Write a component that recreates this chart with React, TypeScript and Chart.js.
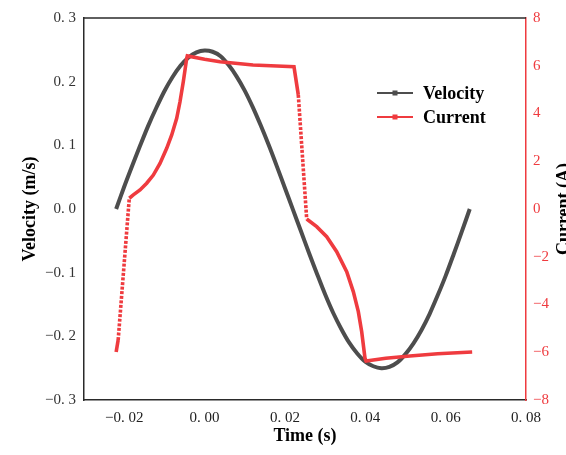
import React, { useEffect, useRef } from "react";
import { Chart, registerables } from "chart.js";

Chart.register(...registerables);

// ---- data ----
const TIME_V = [
  -0.022, -0.02, -0.018, -0.016, -0.014, -0.012, -0.01, -0.008, -0.006, -0.004, -0.002,
  0.0, 0.002, 0.004, 0.006, 0.008, 0.01, 0.012, 0.014, 0.016, 0.018, 0.02,
  0.022, 0.024, 0.026, 0.028, 0.03, 0.032, 0.034, 0.036, 0.038, 0.04, 0.042,
  0.044, 0.046, 0.048, 0.05, 0.052, 0.054, 0.056, 0.058, 0.06, 0.062, 0.064, 0.066,
];
const VELOCITY = [
  0.0, 0.035, 0.068, 0.1, 0.131, 0.159, 0.185, 0.207, 0.225, 0.238, 0.246,
  0.249, 0.247, 0.24, 0.226, 0.208, 0.186, 0.16, 0.131, 0.1, 0.067, 0.033,
  -0.001, -0.035, -0.069, -0.102, -0.134, -0.163, -0.188, -0.21, -0.227, -0.24, -0.247,
  -0.25, -0.248, -0.241, -0.228, -0.211, -0.19, -0.165, -0.136, -0.105, -0.071, -0.036, 0.0,
];

const TIME_I = [
  -0.022, -0.0215, -0.01873, -0.01773, -0.01606, -0.0144, -0.01275, -0.01109, -0.00942,
  -0.00817, -0.00693, -0.00611, -0.00529, -0.00444, -0.00429, 0.0, 0.00385, 0.01206,
  0.018, 0.02226, 0.02333, 0.02542, 0.02791, 0.0304, 0.03289, 0.03538, 0.03702,
  0.03827, 0.03911, 0.03993, 0.0402, 0.0451, 0.0511, 0.058, 0.0666,
];
const CURRENT = [
  -5.99, -5.49, 0.45, 0.59, 0.8, 1.08, 1.42, 1.91, 2.54,
  3.1, 3.8, 4.49, 5.33, 6.31, 6.41, 6.27, 6.17, 6.03,
  5.99, 5.96, 4.78, -0.42, -0.74, -1.16, -1.79, -2.63, -3.46,
  -4.3, -5.14, -6.25, -6.37, -6.25, -6.16, -6.06, -5.99,
];

const X_TICKS = [-0.02, 0.0, 0.02, 0.04, 0.06, 0.08];
const Y_LEFT_TICKS = [-0.3, -0.2, -0.1, 0.0, 0.1, 0.2, 0.3];
const Y_RIGHT_TICKS = [-8, -6, -4, -2, 0, 2, 4, 6, 8];

const SERIES_LABELS = ["Velocity", "Current"];
const X_TITLE = "Time (s)";
const Y_LEFT_TITLE = "Velocity (m/s)";
const Y_RIGHT_TITLE = "Current (A)";

// ---- styles ----
const GRAY = "#4d4d4d";
const RED = "#ef3b3f";
const AXIS = "#2a2a2a";
const SERIF = "'Liberation Serif', 'Times New Roman', serif";

const fmt = (v: number, d: number) => {
  const s = Math.abs(v).toFixed(d).replace(".", ". ");
  return (v < -1e-9 ? "\u2212" : "") + s;
};

const decorPlugin = {
  id: "decor",
  afterDraw(chart: any) {
    const { ctx, chartArea } = chart;
    const { left, right, top, bottom } = chartArea;
    ctx.save();
    // top border
    ctx.strokeStyle = AXIS;
    ctx.lineWidth = 1.5;
    ctx.beginPath();
    ctx.moveTo(left, top);
    ctx.lineTo(right, top);
    ctx.stroke();

    // titles
    const cy = (top + bottom) / 2;
    ctx.fillStyle = "#000";
    ctx.font = `bold 18px ${SERIF}`;
    ctx.textAlign = "center";
    ctx.textBaseline = "middle";
    ctx.fillText(X_TITLE, (left + right) / 2, 436);

    ctx.save();
    ctx.translate(30, cy);
    ctx.rotate(-Math.PI / 2);
    ctx.fillText(Y_LEFT_TITLE, 0, 0);
    ctx.restore();

    ctx.save();
    ctx.translate(564, cy);
    ctx.rotate(-Math.PI / 2);
    ctx.fillText(Y_RIGHT_TITLE, 0, 0);
    ctx.restore();

    // legend
    const ds = chart.data.datasets;
    const lx0 = 377;
    const lx1 = 413;
    const ly = [93, 117];
    ds.forEach((d: any, i: number) => {
      const y = ly[i];
      ctx.strokeStyle = d.borderColor;
      ctx.lineWidth = 2;
      ctx.beginPath();
      ctx.moveTo(lx0, y);
      ctx.lineTo(lx1, y);
      ctx.stroke();
      ctx.fillStyle = d.borderColor;
      ctx.fillRect((lx0 + lx1) / 2 - 2.5, y - 2.5, 5, 5);
      ctx.fillStyle = "#000";
      ctx.font = `bold 18px ${SERIF}`;
      ctx.textAlign = "left";
      ctx.textBaseline = "middle";
      ctx.fillText(d.label, 423, y + 1);
    });
    ctx.restore();
  },
};

export default function App() {
  const ref = useRef<HTMLCanvasElement | null>(null);

  useEffect(() => {
    document.body.style.margin = "0";
    document.body.style.overflow = "hidden";
    const canvas = ref.current;
    if (!canvas) return;
    const chart = new Chart(canvas, {
      type: "line",
      data: {
        datasets: [
          {
            label: SERIES_LABELS[0],
            data: TIME_V.map((t, i) => ({ x: t, y: VELOCITY[i] })),
            borderColor: GRAY,
            backgroundColor: GRAY,
            borderWidth: 4,
            pointRadius: 0,
            tension: 0.3,
            yAxisID: "y",
            order: 2,
          },
          {
            label: SERIES_LABELS[1],
            data: TIME_I.map((t, i) => ({ x: t, y: CURRENT[i] })),
            borderColor: RED,
            backgroundColor: RED,
            borderWidth: 3.6,
            pointRadius: 0,
            tension: 0,
            borderCapStyle: "butt",
            borderJoinStyle: "miter",
            yAxisID: "y1",
            order: 1,
            segment: {
              borderDash: (c: any) =>
                Math.abs(c.p1.y - c.p0.y) > 40 ? [3, 1.6] : undefined,
            },
          },
        ] as any,
      },
      options: {
        responsive: false,
        animation: false,
        devicePixelRatio: 1,
        layout: { padding: { top: 18, left: 0, right: 0, bottom: 0 } },
        plugins: {
          legend: { display: false },
          tooltip: { enabled: false },
        },
        scales: {
          x: {
            type: "linear",
            min: -0.03,
            max: 0.08,
            grid: { display: false, drawTicks: false },
            border: { display: true, color: AXIS, width: 1.5 },
            afterBuildTicks: (axis: any) => {
              axis.ticks = X_TICKS.map((v) => ({ value: v }));
            },
            afterFit: (axis: any) => {
              axis.height = 55;
            },
            ticks: {
              padding: 9,
              color: "#222",
              font: { family: SERIF, size: 15 },
              maxRotation: 0,
              autoSkip: false,
              callback: (v: any) => fmt(Number(v), 2),
            },
          },
          y: {
            type: "linear",
            position: "left",
            min: -0.3,
            max: 0.3,
            grid: { display: false, drawTicks: false },
            border: { display: true, color: AXIS, width: 1.5 },
            afterBuildTicks: (axis: any) => {
              axis.ticks = Y_LEFT_TICKS.map((v) => ({ value: v }));
            },
            afterFit: (axis: any) => {
              axis.width = 84;
            },
            ticks: {
              padding: 8,
              color: "#333",
              font: { family: SERIF, size: 15 },
              autoSkip: false,
              callback: (v: any) => fmt(Number(v), 1),
            },
          },
          y1: {
            type: "linear",
            position: "right",
            min: -8,
            max: 8,
            grid: { display: false, drawTicks: false },
            border: { display: true, color: RED, width: 1.5 },
            afterBuildTicks: (axis: any) => {
              axis.ticks = Y_RIGHT_TICKS.map((v) => ({ value: v }));
            },
            afterFit: (axis: any) => {
              axis.width = 40;
            },
            ticks: {
              padding: 7,
              color: RED,
              font: { family: SERIF, size: 15 },
              autoSkip: false,
              callback: (v: any) => fmt(Number(v), 0),
            },
          },
        },
      } as any,
      plugins: [decorPlugin],
    });
    return () => chart.destroy();
  }, []);

  return (
    <div style={{ width: 566, height: 455, background: "#fff" }}>
      <canvas ref={ref} width={566} height={455} style={{ display: "block" }} />
    </div>
  );
}
